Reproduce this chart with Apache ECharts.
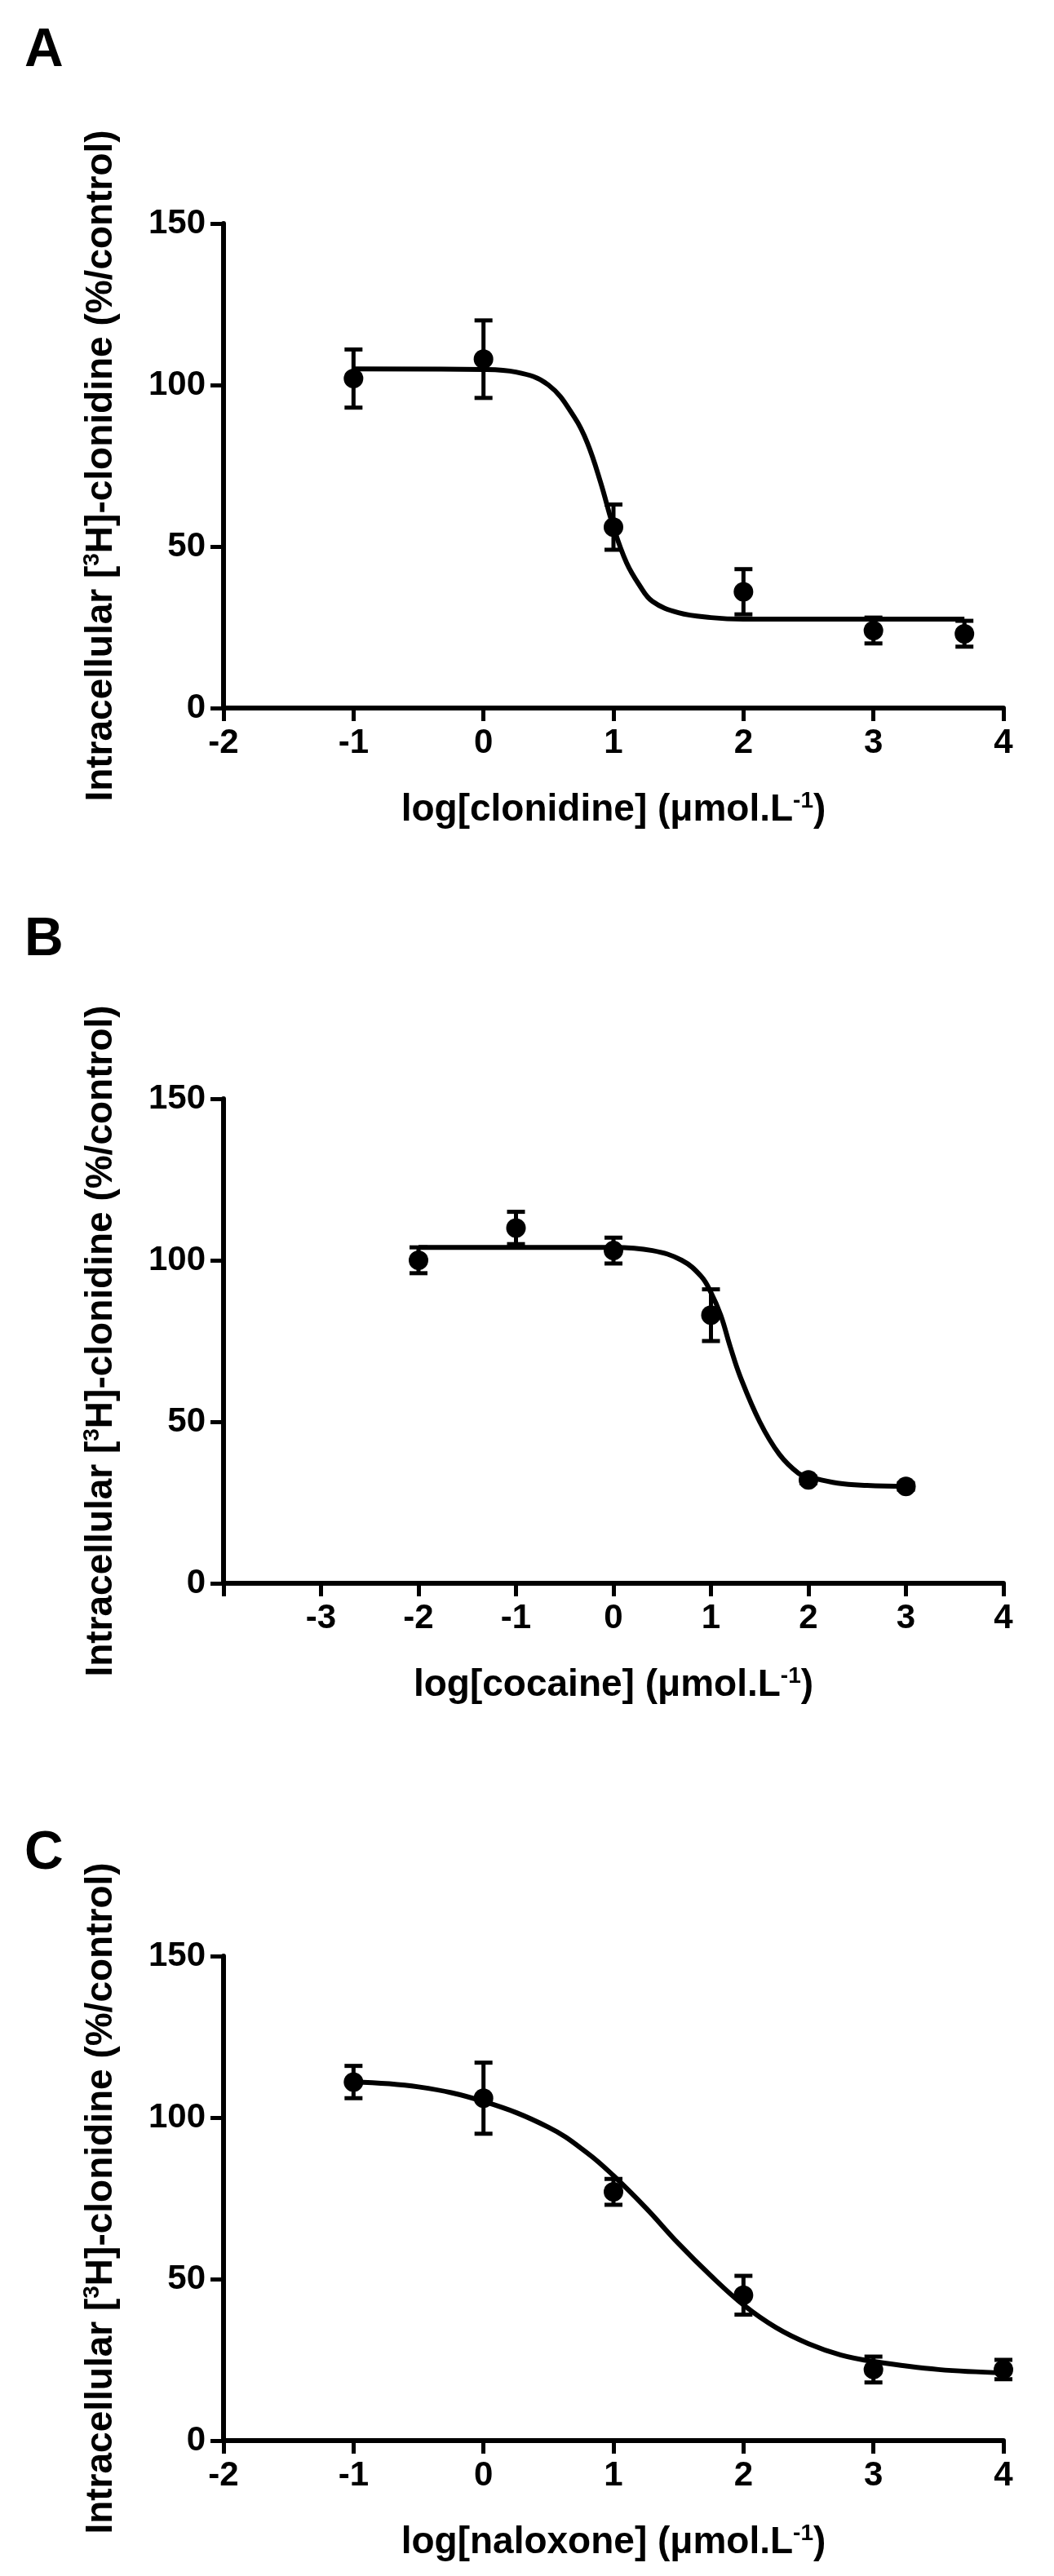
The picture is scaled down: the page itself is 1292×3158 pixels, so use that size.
<!DOCTYPE html>
<html><head><meta charset="utf-8">
<script src="https://cdn.jsdelivr.net/npm/echarts@6/dist/echarts.min.js"></script>
<style>html,body{margin:0;background:#fff}#c{width:1292px;height:3158px}</style>
</head><body><div id="c"></div>
<script>
// Panel A: clonidine
const xA = [-1, 0, 1, 2, 3, 3.7];
const yA = [102, 108, 56, 36, 24, 23];
const eA = [9, 12, 7, 7, 4, 4];
const cxA = [-1, 0, 0.25, 0.5, 0.7, 0.8, 0.9, 1.0, 1.1, 1.2, 1.3, 1.5, 1.75, 2, 3, 3.7];
const cyA = [105, 104.8, 104, 100, 90, 82, 70, 56, 45, 38, 33, 29.5, 28, 27.5, 27.5, 27.5];
// Panel B: cocaine
const xB = [-2, -1, 0, 1, 2, 3];
const yB = [100, 110, 103, 83, 32, 30];
const eB = [4, 5, 4, 8, 1, 1];
const cxB = [-2, 0, 0.4, 0.7, 0.9, 1.0, 1.1, 1.2, 1.3, 1.5, 1.7, 1.9, 2, 2.3, 2.6, 3];
const cyB = [104, 104, 103, 100, 95, 90, 83, 73, 64, 50, 40, 34, 33, 31, 30.3, 30];
// Panel C: naloxone
const xC = [-1, 0, 1, 2, 3, 4];
const yC = [111, 106, 77, 45, 22, 22];
const eC = [5, 11, 4, 6, 4, 3];
const cxC = [-1, -0.5, 0, 0.5, 0.8, 1, 1.25, 1.5, 1.75, 2, 2.25, 2.5, 2.75, 3, 3.5, 4];
const cyC = [111, 109.5, 105, 97, 89, 82, 72, 61, 51, 42, 35, 30, 26.5, 24.5, 22, 21];

const xMins = [-2, -4, -2];
const xTitles = ['log[clonidine] (μmol.L{s|-1})', 'log[cocaine] (μmol.L{s|-1})', 'log[naloxone] (μmol.L{s|-1})'];
const yTitle = 'Intracellular [{s|3}H]-clonidine (%/control)';
const letters = ['A', 'B', 'C'];

const panels = [[xA,yA,eA,cxA,cyA],[xB,yB,eB,cxB,cyB],[xC,yC,eC,cxC,cyC]];
const tops = [274, 1347, 2398];
const H = 594;
const F = 'Liberation Sans, Arial, sans-serif';
const grid=[], xAxis=[], yAxis=[], series=[], graphic=[];
const letterY=[30, 1120, 2240];
panels.forEach((p,i)=>{
  grid.push({left:274, width:956, top:tops[i], height:H});
  xAxis.push({type:'value', gridIndex:i, min:xMins[i], max:4, interval:1,
    axisLine:{onZero:false,lineStyle:{color:'#000',width:6}}, axisTick:{length:16,lineStyle:{width:5,color:'#000'}},
    splitLine:{show:false},
    axisLabel:{color:'#000',fontFamily:F,fontWeight:'bold',fontSize:42,margin:22,
      formatter:v=> (i===1 && v===-4)?'':String(v)},
    name:xTitles[i], nameLocation:'middle', nameGap:100,
    nameTextStyle:{color:'#000',fontFamily:F,fontWeight:'bold',fontSize:46,
      rich:{s:{fontSize:28,verticalAlign:'top',fontWeight:'bold',fontFamily:F,color:'#000',padding:[0,0,22,0]}}}});
  yAxis.push({type:'value', gridIndex:i, min:0, max:150, interval:50,
    axisLine:{show:true,onZero:false,lineStyle:{color:'#000',width:6}}, axisTick:{show:true,length:16,lineStyle:{width:5,color:'#000'}},
    splitLine:{show:false},
    axisLabel:{color:'#000',fontFamily:F,fontWeight:'bold',fontSize:42,margin:22},
    name:yTitle, nameLocation:'middle', nameGap:125,
    nameTextStyle:{color:'#000',fontFamily:F,fontWeight:'bold',fontSize:46,
      rich:{s:{fontSize:28,fontWeight:'bold',fontFamily:F,color:'#000',padding:[0,0,22,0]}}}});
  series.push({type:'line', xAxisIndex:i, yAxisIndex:i, data:p[3].map((x,k)=>[x,p[4][k]]),
    smooth:0.4, showSymbol:false, lineStyle:{color:'#000',width:6}, z:3});
  series.push({type:'custom', xAxisIndex:i, yAxisIndex:i, data:p[0].map((x,k)=>[x,p[1][k],p[2][k]]),
    renderItem:(params,api)=>{
      const x=api.value(0), y=api.value(1), e=api.value(2);
      const a=api.coord([x,y+e]), b=api.coord([x,y-e]); const w=11;
      const st={stroke:'#000',lineWidth:5};
      return {type:'group',children:[
        {type:'line',shape:{x1:a[0],y1:a[1],x2:b[0],y2:b[1]},style:st},
        {type:'line',shape:{x1:a[0]-w,y1:a[1],x2:a[0]+w,y2:a[1]},style:st},
        {type:'line',shape:{x1:b[0]-w,y1:b[1],x2:b[0]+w,y2:b[1]},style:st}]};
    }, z:4});
  series.push({type:'scatter', xAxisIndex:i, yAxisIndex:i, data:p[0].map((x,k)=>[x,p[1][k]]),
    symbolSize:24, itemStyle:{color:'#000',opacity:1}, z:5});
  graphic.push({type:'text', left:30, top:letterY[i], style:{text:letters[i], font:'bold 66px '+F, fill:'#000'}});
});
const chart = echarts.init(document.getElementById('c'));
chart.setOption({animation:false, backgroundColor:'#fff', grid, xAxis, yAxis, series, graphic});
</script></body></html>
